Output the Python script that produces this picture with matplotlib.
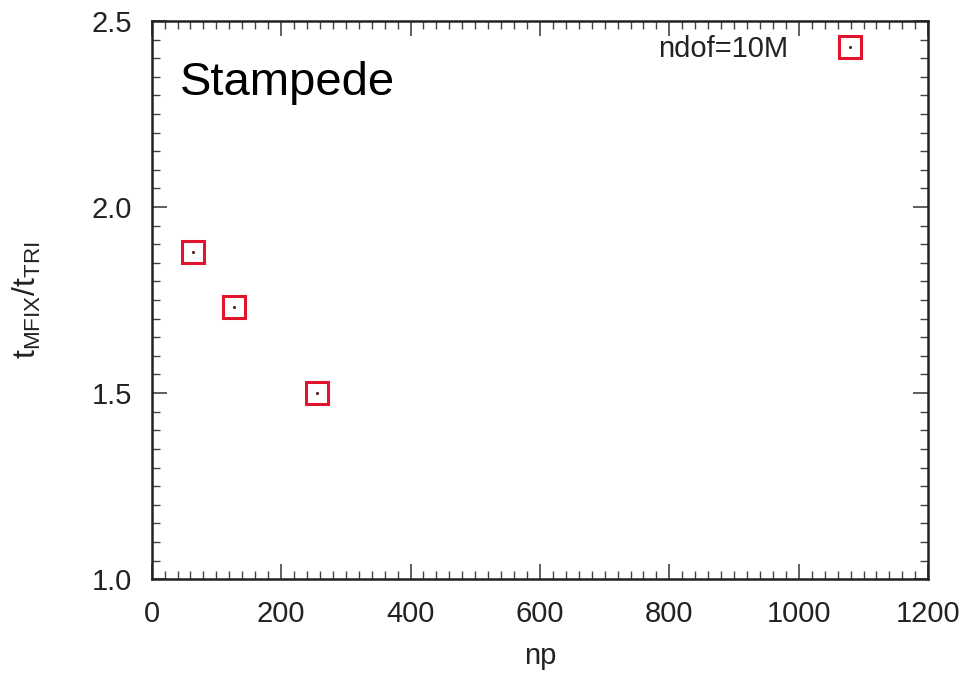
import matplotlib
matplotlib.use("Agg")
import matplotlib.pyplot as plt
from matplotlib.ticker import MultipleLocator
from matplotlib.legend_handler import HandlerTuple

plt.rcParams['font.family'] = ['Liberation Sans', 'DejaVu Sans']
plt.rcParams['mathtext.fontset'] = 'custom'
plt.rcParams['mathtext.rm'] = 'Liberation Sans'

np_vals = [64, 128, 256]
ratio = [1.878, 1.730, 1.500]
series_label = "ndof=10M"
machine = "Stampede"
xlabel = "np"
ylabel = r"$\mathregular{t_{MFIX}/t_{TRI}}$"

fig = plt.figure(figsize=(9.72, 6.75), dpi=100)
ax = fig.add_axes([0.156, 0.142, 0.799, 0.827])

red = '#e0142c'
sq, = ax.plot(np_vals, ratio, linestyle='none', marker='s', markersize=15.5,
              markerfacecolor='none', markeredgecolor=red, markeredgewidth=2.2)
dot, = ax.plot(np_vals, ratio, linestyle='none', marker='.', markersize=2.5,
               color='#552222')

ax.set_xlim(0, 1200)
ax.set_ylim(1.0, 2.5)
ax.xaxis.set_major_locator(MultipleLocator(200))
ax.xaxis.set_minor_locator(MultipleLocator(20))
ax.yaxis.set_major_locator(MultipleLocator(0.5))
ax.yaxis.set_minor_locator(MultipleLocator(0.05))
ax.yaxis.set_major_formatter(plt.FuncFormatter(lambda v, p: f"{v:.1f}"))

ax.tick_params(which='both', direction='in', top=True, right=True,
               color='#444444', labelsize=21, labelcolor='#222222')
ax.tick_params(which='major', length=11, width=1.2)
ax.tick_params(axis='x', which='major', pad=15)
ax.tick_params(axis='y', which='major', pad=14)
ax.tick_params(which='minor', length=6, width=1.0)
for s in ax.spines.values():
    s.set_linewidth(1.8)
    s.set_color('#222222')

ax.set_xlabel(xlabel, fontsize=21, color='#222222')
ax.set_ylabel(ylabel, fontsize=23, color='#222222')
ax.xaxis.set_label_coords(0.5, -0.113)
ax.yaxis.set_label_coords(-0.140, 0.5)

ax.text(0.036, 0.867, machine, transform=ax.transAxes, fontsize=34,
        ha='left', va='baseline', color='black')

leg = ax.legend([(sq, dot)], [series_label], loc='upper right', frameon=False,
                markerfirst=False, fontsize=21, handlelength=1.5,
                handletextpad=1.38, borderaxespad=0, borderpad=0,
                bbox_to_anchor=(0.9275, 0.975),
                handler_map={tuple: HandlerTuple(ndivide=1, pad=0)})
for t in leg.get_texts():
    t.set_color('#222222')

fig.savefig("out.png", dpi=100)
